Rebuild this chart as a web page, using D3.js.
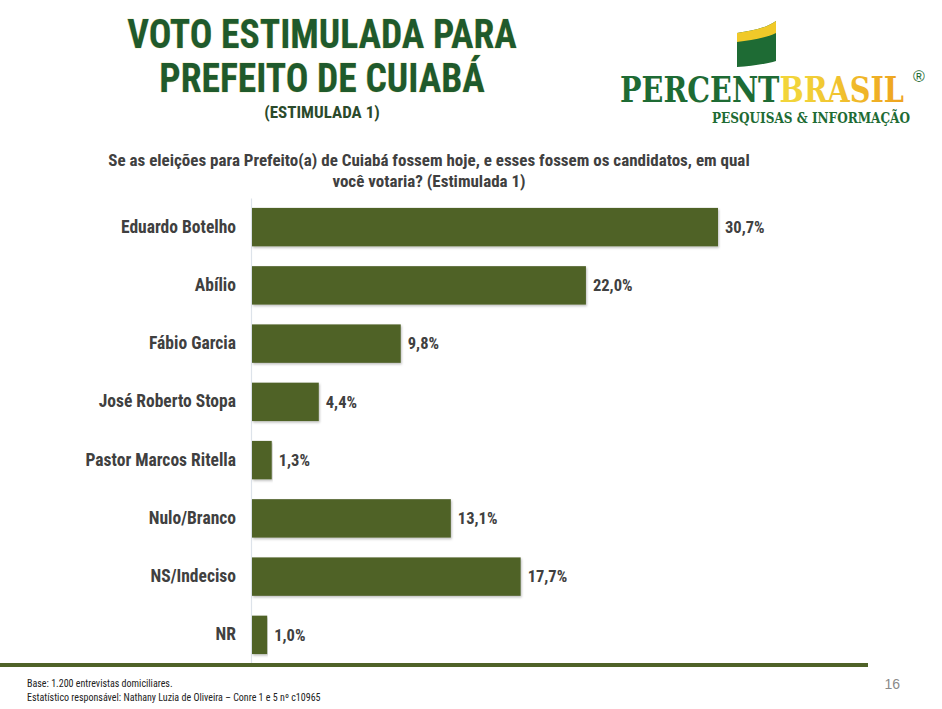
<!DOCTYPE html>
<html>
<head>
<meta charset="utf-8">
<script src="https://cdn.jsdelivr.net/npm/d3@7"></script>
<style>
  body { margin: 0; background: #fff; }
  svg { display: block; }
</style>
</head>
<body>
<svg class="chart" width="942" height="709"></svg>
<script>
// chart values
const candidates = ["Eduardo Botelho", "Abílio", "Fábio Garcia", "José Roberto Stopa",
  "Pastor Marcos Ritella", "Nulo/Branco", "NS/Indeciso", "NR"];
const percents = [30.7, 22.0, 9.8, 4.4, 1.3, 13.1, 17.7, 1.0];
const titleLines = ["VOTO ESTIMULADA PARA", "PREFEITO DE CUIABÁ"];
const subtitle = "(ESTIMULADA 1)";
const questionLines = ["Se as eleições para Prefeito(a) de Cuiabá fossem hoje, e esses fossem os candidatos, em qual",
  "você votaria? (Estimulada 1)"];
const footLines = ["Base: 1.200 entrevistas domiciliares.",
  "Estatístico responsável: Nathany Luzia de Oliveira – Conre 1 e 5 nº c10965"];
const pageNumber = "16";

const svg = d3.select(".chart");
const narrow = "'Liberation Sans Narrow', 'Arial Narrow', 'Roboto Condensed', 'Liberation Sans', sans-serif";
const green = "#4f6228";

const defs = svg.append("defs");
const shadow = defs.append("filter").attr("id", "shadow")
  .attr("x", "-5%").attr("y", "-10%").attr("width", "110%").attr("height", "130%");
shadow.append("feDropShadow").attr("dx", 1).attr("dy", 1.5).attr("stdDeviation", 1)
  .attr("flood-color", "#000").attr("flood-opacity", 0.25);

const brasilGrad = defs.append("linearGradient").attr("id", "brasil")
  .attr("gradientUnits", "userSpaceOnUse").attr("x1", 800).attr("x2", 904);
brasilGrad.append("stop").attr("offset", "0%").attr("stop-color", "#f2d43a");
brasilGrad.append("stop").attr("offset", "100%").attr("stop-color", "#eea21e");

// title (squeezed a bit horizontally, like the slide font)
svg.append("g").attr("transform", "translate(322,0) scale(0.94,1)")
  .selectAll("text").data(titleLines).join("text")
  .attr("x", 0).attr("y", (d, i) => 48 + i * 44)
  .attr("text-anchor", "middle")
  .style("font-family", narrow).style("font-weight", "bold").style("font-size", "40px")
  .style("fill", "#1f5a2c")
  .style("paint-order", "stroke").style("stroke", "#e8dc9a").style("stroke-width", 0.6)
  .text(d => d);

svg.append("text").attr("x", 322).attr("y", 118).attr("text-anchor", "middle")
  .style("font-family", narrow).style("font-weight", "bold").style("font-size", "17px")
  .style("fill", "#2b4a2b").text(subtitle);

// logo
const logo = svg.append("g");
logo.append("path")
  .attr("d", "M737,33 C752,31 766,28 776,21 L776,61 C766,64 752,66 737,67 Z")
  .attr("fill", "#1e6b34");
logo.append("path")
  .attr("d", "M737,33 C752,31 766,28 776,21 L776,33 C766,38 752,40 737,42 Z")
  .attr("fill", "#f0c929");
const brand = logo.append("text").attr("x", 620).attr("y", 102)
  .attr("textLength", 284).attr("lengthAdjust", "spacingAndGlyphs")
  .style("font-family", "'DejaVu Serif', serif").style("font-weight", "bold").style("font-size", "36px");
brand.append("tspan").style("fill", "#1e6b34").text("PERCENT");
brand.append("tspan").style("fill", "url(#brasil)").text("BRASIL");
logo.append("text").attr("x", 919).attr("y", 82).attr("text-anchor", "middle")
  .style("font-family", "'Liberation Sans', sans-serif").style("font-size", "16px")
  .style("fill", "#1e6b34").text("®");
logo.append("text").attr("x", 712).attr("y", 123)
  .attr("textLength", 198).attr("lengthAdjust", "spacingAndGlyphs")
  .style("font-family", "'DejaVu Serif', serif").style("font-weight", "bold").style("font-size", "14px")
  .style("fill", "#1e6b34").text("PESQUISAS & INFORMAÇÃO");

// question
svg.append("g").selectAll("text").data(questionLines).join("text")
  .attr("x", 429).attr("y", (d, i) => 166 + i * 21)
  .attr("text-anchor", "middle")
  .style("font-family", narrow).style("font-weight", "bold").style("font-size", "17px")
  .style("fill", "#404040")
  .text(d => d);

// bars
const x = d3.scaleLinear().domain([0, 30.7]).range([251, 717]);
const y = d3.scaleBand().domain(candidates).range([198, 664])
  .paddingInner(0.34).paddingOuter(0.17);

const axis = svg.append("g").attr("transform", "translate(251,0)")
  .call(d3.axisLeft(y).tickSize(0).tickPadding(15));
axis.select(".domain").attr("stroke", "#dde3ea").attr("stroke-width", 1.2);
axis.selectAll("text")
  .style("font-family", narrow).style("font-weight", "bold").style("font-size", "17.5px")
  .style("fill", "#404040");

const rows = candidates.map((c, i) => ({ name: c, value: percents[i] }));

svg.append("g").selectAll("rect").data(rows).join("rect")
  .attr("x", x(0) + 1)
  .attr("y", d => y(d.name))
  .attr("width", d => x(d.value) - x(0))
  .attr("height", y.bandwidth())
  .attr("fill", green)
  .attr("filter", "url(#shadow)");

svg.append("g").selectAll("text").data(rows).join("text")
  .attr("x", d => x(d.value) + 8)
  .attr("y", d => y(d.name) + y.bandwidth() / 2)
  .attr("dy", "0.35em")
  .style("font-family", narrow).style("font-weight", "bold").style("font-size", "16.5px")
  .style("fill", "#404040")
  .text(d => d3.format(".1f")(d.value).replace(".", ",") + "%");

// footer
svg.append("rect").attr("x", 0).attr("y", 663).attr("width", 868).attr("height", 4).attr("fill", green);

svg.append("g").selectAll("text").data(footLines).join("text")
  .attr("x", 27).attr("y", (d, i) => 687 + i * 14)
  .style("font-family", narrow).style("font-size", "10px")
  .style("fill", "#222")
  .text(d => d);

svg.append("text").attr("x", 900).attr("y", 689).attr("text-anchor", "end")
  .style("font-family", "'Liberation Sans', sans-serif").style("font-size", "14px")
  .style("fill", "#8a8a8a").text(pageNumber);
</script>
</body>
</html>
